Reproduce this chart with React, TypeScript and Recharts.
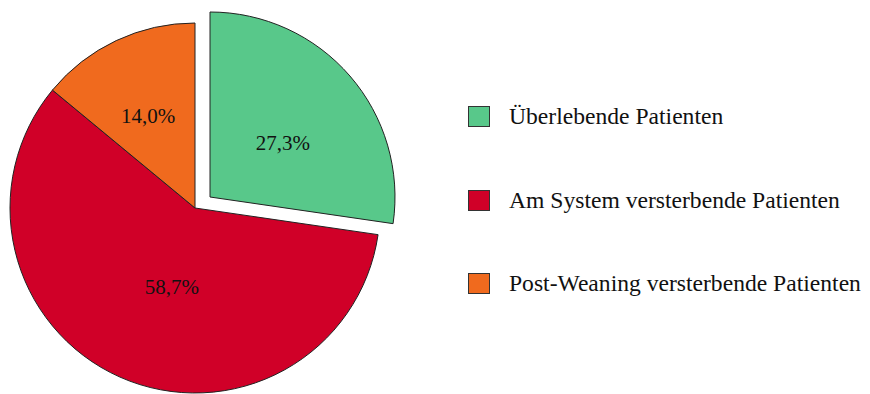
import { PieChart, Pie, Cell, Legend } from "recharts";

const categories = [
  "Überlebende Patienten",
  "Am System versterbende Patienten",
  "Post-Weaning versterbende Patienten",
];
const percentages = [27.3, 58.7, 14.0];
const colors = ["#58C88A", "#D00028", "#F06A1E"];

const data = categories.map((name, i) => ({ name, value: percentages[i] }));

const RADIAN = Math.PI / 180;
const FONT = "'Liberation Serif', 'Times New Roman', serif";
// small per-slice nudges so labels sit where the original puts them
const labelNudge = [
  [0, 9],
  [16, -9],
  [-6, -5],
];

// label renderer; only draws the slices listed in `show`
const makeLabel = (show: number[]) => (props: any) => {
  const { cx, cy, midAngle, outerRadius, index } = props;
  if (!show.includes(index)) return null;
  const r = outerRadius * 0.52;
  const x = cx + r * Math.cos(-midAngle * RADIAN) + labelNudge[index][0];
  const y = cy + r * Math.sin(-midAngle * RADIAN) + labelNudge[index][1];
  return (
    <text
      x={x}
      y={y}
      fill="#111"
      textAnchor="middle"
      dominantBaseline="central"
      style={{ fontFamily: FONT, fontSize: 21 }}
    >
      {percentages[index].toFixed(1).replace(".", ",")}%
    </text>
  );
};

const LegendContent = () => (
  <div style={{ fontFamily: FONT, fontSize: 23.6, color: "#111" }}>
    {categories.map((name, i) => (
      <div key={name} style={{ display: "flex", alignItems: "center", height: 83.5 }}>
        <span
          style={{
            display: "inline-block",
            width: 22,
            height: 21,
            background: colors[i],
            border: "1px solid #333",
            boxSizing: "border-box",
            marginRight: 19,
          }}
        />
        <span>{name}</span>
      </div>
    ))}
  </div>
);

export default function App() {
  return (
    <div style={{ position: "absolute", left: 0, top: 0, background: "#fff" }}>
      <PieChart width={870} height={394} margin={{ top: 0, right: 0, bottom: 0, left: 0 }}>
        {/* main pie: red and orange slices, green hidden */}
        <Pie
          data={data}
          dataKey="value"
          nameKey="name"
          cx={195}
          cy={208}
          outerRadius={185}
          startAngle={90}
          endAngle={-270}
          isAnimationActive={false}
          labelLine={false}
          label={makeLabel([1, 2])}
        >
          {data.map((d, i) => (
            <Cell
              key={d.name}
              fill={i === 0 ? "none" : colors[i]}
              stroke={i === 0 ? "none" : "#222"}
              strokeWidth={1}
            />
          ))}
        </Pie>
        {/* exploded green slice */}
        <Pie
          data={data}
          dataKey="value"
          nameKey="name"
          cx={210}
          cy={197}
          outerRadius={185}
          startAngle={90}
          endAngle={-270}
          isAnimationActive={false}
          labelLine={false}
          label={makeLabel([0])}
        >
          {data.map((d, i) => (
            <Cell
              key={d.name}
              fill={i === 0 ? colors[0] : "none"}
              stroke={i === 0 ? "#222" : "none"}
              strokeWidth={1}
            />
          ))}
        </Pie>
        <Legend
          layout="vertical"
          content={<LegendContent />}
          wrapperStyle={{ left: 468, top: 75, width: 400 }}
        />
      </PieChart>
    </div>
  );
}
